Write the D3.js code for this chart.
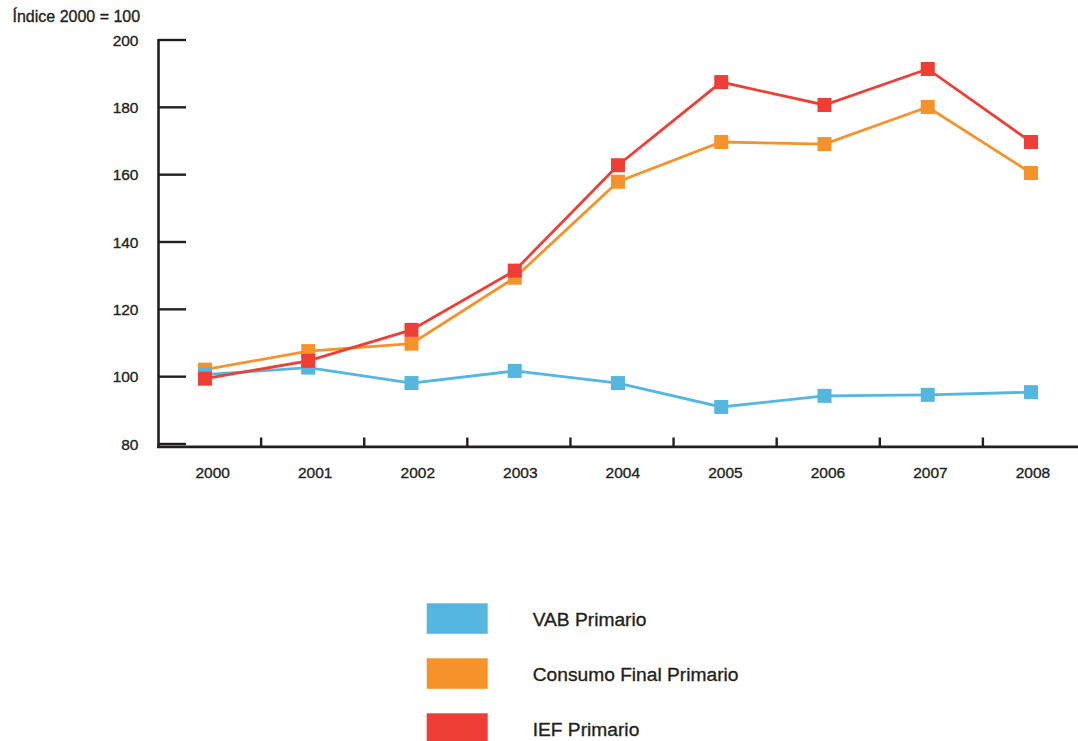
<!DOCTYPE html>
<html>
<head>
<meta charset="utf-8">
<script src="https://cdn.jsdelivr.net/npm/d3@7"></script>
<style>
  html, body { margin: 0; padding: 0; background: #fff; }
  svg { display: block; font-family: "Liberation Sans", Arial, Helvetica, sans-serif; }
  text { stroke: #231f20; stroke-width: 0.35px; }
</style>
</head>
<body>
<svg id="chart" width="1078" height="741"></svg>
<script>
const years = ["2000","2001","2002","2003","2004","2005","2006","2007","2008"];
const vabPrimario = [100.6, 102.7, 98.1, 101.7, 98.1, 91.0, 94.3, 94.6, 95.4];
const consumoFinalPrimario = [102.1, 107.6, 109.8, 129.4, 157.9, 169.7, 169.1, 180.1, 160.5];
const iefPrimario = [99.4, 104.7, 113.9, 131.5, 162.8, 187.5, 180.7, 191.4, 169.7];
const yTicks = [80, 100, 120, 140, 160, 180, 200];
const seriesNames = ["VAB Primario", "Consumo Final Primario", "IEF Primario"];
const seriesColors = ["#55b6e0", "#f5932a", "#ee3e36"];
const yTitle = "Índice 2000 = 100";

const series = [
  { name: seriesNames[0], color: seriesColors[0], values: vabPrimario },
  { name: seriesNames[1], color: seriesColors[1], values: consumoFinalPrimario },
  { name: seriesNames[2], color: seriesColors[2], values: iefPrimario }
];

const svg = d3.select("#chart");
const ink = "#231f20";

const y = d3.scaleLinear().domain([80, 200]).range([444, 40]);
const xBand = d3.scaleBand().domain(years).range([158, 1086]).padding(0);
const xPoint = d3.scalePoint().domain(years).range([205, 1031]);
const xLabel = d3.scalePoint().domain(years).range([212.7, 1033]);

// Title
svg.append("text").attr("x", 12.5).attr("y", 21.5)
  .attr("font-size", 16).attr("fill", ink).text(yTitle);

// Y axis
const axisY = 158.5;
svg.append("line").attr("x1", axisY).attr("x2", axisY)
  .attr("y1", 39).attr("y2", 448).attr("stroke", ink).attr("stroke-width", 2.6);
svg.selectAll(".ytick").data(yTicks).join("line")
  .attr("x1", 158).attr("x2", 186)
  .attr("y1", d => y(d)).attr("y2", d => y(d))
  .attr("stroke", ink).attr("stroke-width", 2.4);
svg.selectAll(".ylab").data(yTicks).join("text")
  .attr("x", 138.5).attr("y", d => y(d)).attr("dy", "0.36em")
  .attr("text-anchor", "end").attr("font-size", 15.5).attr("fill", ink)
  .text(d => d);

// X axis
const axisX = 446.8;
svg.append("line").attr("x1", 157).attr("x2", 1078)
  .attr("y1", axisX).attr("y2", axisX).attr("stroke", ink).attr("stroke-width", 2.7);
svg.selectAll(".xtick").data(years.slice(1)).join("line")
  .attr("x1", d => xBand(d)).attr("x2", d => xBand(d))
  .attr("y1", 437.5).attr("y2", axisX)
  .attr("stroke", ink).attr("stroke-width", 2.4);
svg.selectAll(".xlab").data(years).join("text")
  .attr("x", d => xLabel(d)).attr("y", 478.3)
  .attr("text-anchor", "middle").attr("font-size", 15.5).attr("fill", ink)
  .text(d => d);

// Lines
const line = d3.line().x((d, i) => xPoint(years[i])).y(d => y(d));
series.forEach(s => {
  svg.append("path").attr("d", line(s.values))
    .attr("fill", "none").attr("stroke", s.color).attr("stroke-width", 2.8)
    .attr("stroke-linejoin", "miter");
});
// Markers (orange first, then blue, then red on top)
const ms = 14;
[series[1], series[0], series[2]].forEach(s => {
  svg.append("g").selectAll("rect").data(s.values).join("rect")
    .attr("x", (d, i) => xPoint(years[i]) - ms / 2)
    .attr("y", d => y(d) - ms / 2)
    .attr("width", ms).attr("height", ms)
    .attr("fill", s.color);
});

// Legend
const legendY = d3.scalePoint().domain(seriesNames).range([603.3, 713.3]);
const lg = svg.append("g");
lg.selectAll("rect").data(series).join("rect")
  .attr("x", 426.7).attr("y", d => legendY(d.name))
  .attr("width", 61).attr("height", 30.5).attr("fill", d => d.color);
lg.selectAll("text").data(series).join("text")
  .attr("x", 532.7).attr("y", d => legendY(d.name) + 22.4)
  .attr("font-size", 19.2).attr("fill", ink).text(d => d.name);
</script>
</body>
</html>
